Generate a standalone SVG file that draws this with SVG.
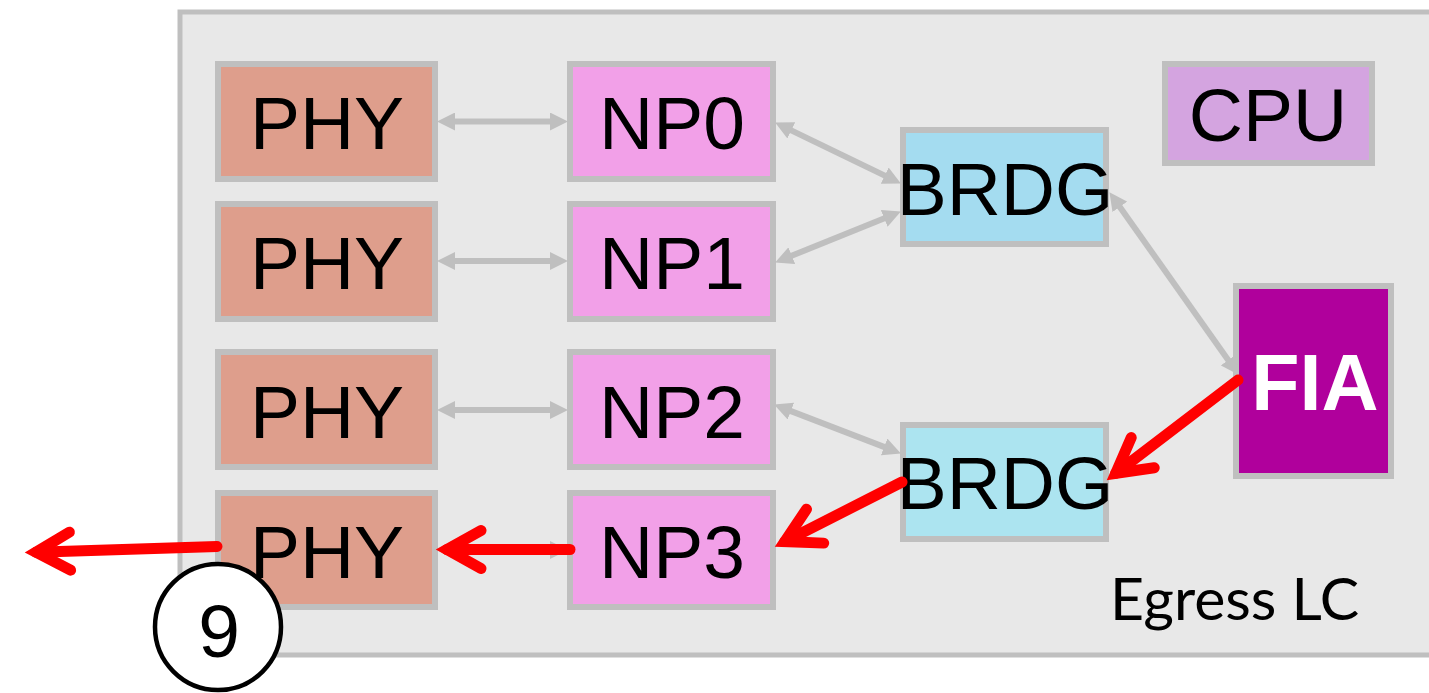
<svg xmlns="http://www.w3.org/2000/svg" width="1429" height="693" viewBox="0 0 1429 693">
  <style>
    .box { stroke: #bfbfbf; stroke-width: 6; }
    .lbl { font-family: "Liberation Sans", Arial, sans-serif; font-size: 75px; fill: #000; text-anchor: middle; }
    .phy { fill: #de9e8c; }
    .np { fill: #f2a0e8; }
    .link { stroke: #bfbfbf; stroke-width: 6; fill: none; marker-start: url(#tri); marker-end: url(#tri); }
    .flow { stroke: #ff0000; stroke-width: 11; fill: none; stroke-linecap: round; marker-end: url(#open); }
  </style>
  <defs>
    <marker id="tri" markerUnits="userSpaceOnUse" viewBox="0 -9 18 18" refX="11" refY="0" markerWidth="18" markerHeight="18" orient="auto-start-reverse">
      <path d="M0,-9 L18,0 L0,9 z" fill="#bfbfbf"/>
    </marker>
    <marker id="open" markerUnits="userSpaceOnUse" viewBox="-50 -30 60 60" refX="0" refY="0" markerWidth="60" markerHeight="60" orient="auto" overflow="visible">
      <path d="M-34,-19 L0,0 L-34,19" fill="none" stroke="#ff0000" stroke-width="11" stroke-linecap="round" stroke-linejoin="miter"/>
    </marker>
  </defs>

  <rect width="1429" height="693" fill="#ffffff"/>

  <!-- line card enclosure -->
  <g id="egress-lc">
    <rect x="180" y="12" width="1270" height="643" fill="#e8e8e8" stroke="#bfbfbf" stroke-width="5"/>
    <text x="1110" y="620" font-family="Lato, 'Open Sans', sans-serif" font-size="59" fill="#000">Egress LC</text>
  </g>

  <g id="phy0"><rect class="box phy" x="218" y="64" width="217" height="115"/><text class="lbl" x="327" y="149">PHY</text></g>
  <g id="phy1"><rect class="box phy" x="218" y="204" width="217" height="115"/><text class="lbl" x="327" y="289">PHY</text></g>
  <g id="phy2"><rect class="box phy" x="218" y="352" width="217" height="115"/><text class="lbl" x="327" y="438">PHY</text></g>
  <g id="phy3"><rect class="box phy" x="218" y="493" width="217" height="114"/><text class="lbl" x="327" y="578">PHY</text></g>

  <g id="np0"><rect class="box np" x="570" y="64" width="203" height="115"/><text class="lbl" x="672" y="149">NP0</text></g>
  <g id="np1"><rect class="box np" x="570" y="204" width="203" height="115"/><text class="lbl" x="672" y="289">NP1</text></g>
  <g id="np2"><rect class="box np" x="570" y="352" width="203" height="115"/><text class="lbl" x="672" y="438">NP2</text></g>
  <g id="np3"><rect class="box np" x="570" y="493" width="203" height="114"/><text class="lbl" x="672" y="578">NP3</text></g>

  <g id="brdg0"><rect class="box" fill="#a4dcf0" x="903" y="130" width="203" height="114"/><text class="lbl" x="1005" y="215">BRDG</text></g>
  <g id="brdg1"><rect class="box" fill="#ace4f0" x="903" y="425" width="203" height="114"/><text class="lbl" x="1005" y="509">BRDG</text></g>

  <g id="cpu"><rect class="box" fill="#d4a4e0" x="1165" y="64" width="207" height="99"/><text class="lbl" x="1268" y="141">CPU</text></g>

  <g id="fia"><rect class="box" fill="#b0009c" x="1236" y="286" width="155" height="190"/><text x="1315" y="410" font-family="'Liberation Sans', Arial, sans-serif" font-weight="bold" font-size="79" fill="#ffffff" text-anchor="middle">FIA</text></g>

  <g id="connectors">
    <!-- bidirectional internal links -->
    <line class="link" x1="444" y1="121.5" x2="561" y2="121.5"/>
    <line class="link" x1="444" y1="261" x2="561" y2="261"/>
    <line class="link" x1="444" y1="410" x2="561" y2="410"/>
    <line class="link" x1="444" y1="550" x2="561" y2="550"/>
    <line class="link" x1="781.4" y1="125.6" x2="894.6" y2="180.4"/>
    <line class="link" x1="781.6" y1="259.8" x2="894.4" y2="214.2"/>
    <line class="link" x1="1113.5" y1="197.9" x2="1234.5" y2="369.1"/>
    <line class="link" x1="780.6" y1="407.1" x2="894.4" y2="450.9"/>

    <!-- egress packet path -->
    <path class="flow" d="M1238,380 L1115.7,473.3"/>
    <path class="flow" d="M902,482 L784.8,541.6"/>
    <path class="flow" d="M570,549.5 L447,549.5"/>
    <path class="flow" d="M217,546.5 L36,552.2"/>
  </g>

  <g id="step-9">
    <circle cx="218" cy="627" r="63" fill="#ffffff" stroke="#000000" stroke-width="4.5"/>
    <text class="lbl" x="219" y="657">9</text>
  </g>
</svg>
